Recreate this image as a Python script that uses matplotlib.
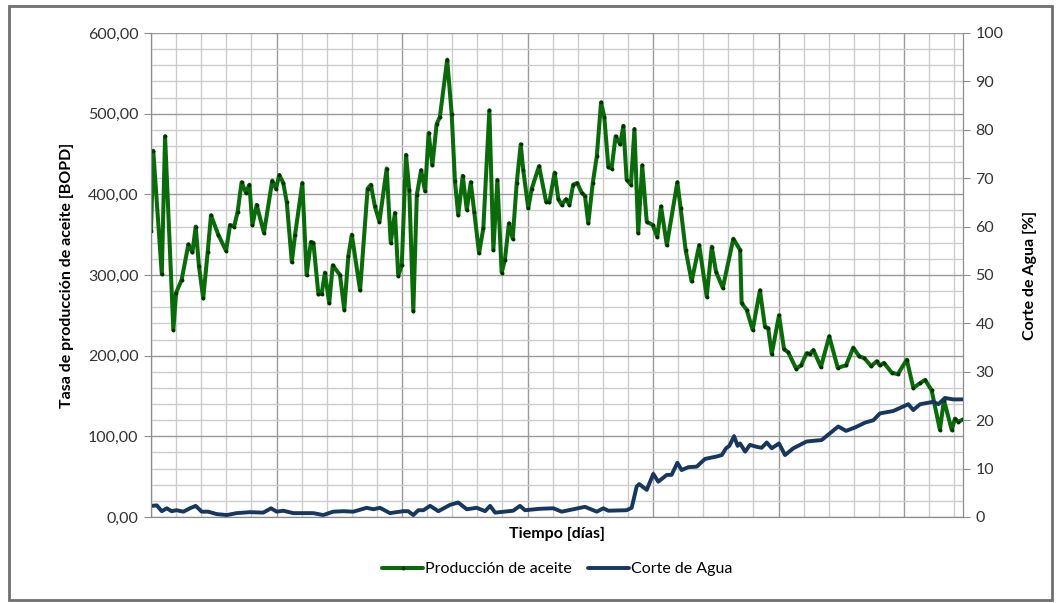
import matplotlib.pyplot as plt
from matplotlib.patches import Rectangle
from matplotlib.ticker import MultipleLocator, FuncFormatter

plt.rcParams['font.family'] = ['Lato', 'DejaVu Sans']

# producción de aceite [BOPD] vs tiempo
dias_aceite = [0, 0.9, 4.3, 5.6, 8.9, 10.0, 12.2, 14.9, 16.5, 17.8, 19.1, 20.8, 22.6, 23.9,
               26.8, 29.9, 31.5, 33.1, 34.5, 36.1, 37.8, 39.2, 40.4, 42.1, 45.0, 48.3, 49.8,
               51.1, 52.7, 54.1, 56.1, 57.4, 60.3, 62.0, 63.7, 64.7, 66.7, 68.0, 69.3, 71.0,
               72.4, 75.3, 77.0, 78.6, 80.0, 83.3, 86.3, 87.6, 89.2, 91.0, 93.9, 95.5, 97.2,
               98.5, 99.9, 101.6, 102.9, 104.5, 105.9, 107.6, 109.2, 110.6, 112.1, 113.8,
               115.1, 118.0, 119.8, 121.1, 122.4, 124.2, 125.8, 127.4, 128.8, 130.7, 132.4,
               134.8, 136.4, 138.0, 139.7, 141.0, 142.6, 144.1, 145.7, 147.3, 148.3, 150.3,
               151.7, 154.6, 157.4, 158.7, 160.8, 162.3, 163.6, 165.3, 166.7, 168.2, 169.8,
               171.6, 172.9, 174.2, 176.0, 177.6, 179.3, 180.6, 182.2, 183.5, 185.1, 186.9,
               188.2, 189.5, 191.2, 192.6, 194.1, 195.7, 197.5, 199.9, 201.7, 203.2, 205.5,
               209.7, 211.0, 213.0, 215.4, 218.4, 221.4, 223.4, 225.1, 227.8, 232.0, 234.7,
               235.3, 237.3, 239.7, 242.6, 244.6, 245.9, 247.3, 250.2, 252.2, 253.9, 257.0,
               259.0, 261.2, 262.5, 263.9, 266.9, 270.2, 273.6, 276.9, 279.8, 282.2, 284.2,
               286.9, 289.1, 290.4, 292.0, 295.1, 297.5, 301.1, 303.7, 306.4, 308.4, 311.0,
               314.3, 315.9, 319.0, 320.3, 321.7, 323.6]
aceite = [355, 454, 301, 472, 232, 278, 294, 338, 328, 360, 311, 271, 329, 374,
          350, 330, 362, 360, 378, 415, 402, 412, 362, 387, 352, 417, 407,
          424, 414, 390, 316, 350, 414, 300, 341, 340, 276, 277, 303, 265,
          312, 300, 257, 323, 350, 281, 407, 412, 385, 366, 432, 340, 377,
          299, 312, 449, 405, 255, 399, 430, 404, 476, 436, 487,
          496, 567, 499, 416, 374, 423, 381, 415, 378, 327, 358,
          504, 331, 418, 303, 319, 364, 345, 414, 462, 430, 383,
          407, 435, 391, 390, 427, 394, 387, 394, 387, 412, 414,
          402, 398, 364, 414, 447, 514, 496, 434, 432, 472, 462,
          485, 418, 412, 481, 352, 436, 366, 362, 347, 385, 337,
          415, 383, 331, 292, 337, 273, 335, 304, 284, 345, 331,
          265, 257, 232, 281, 236, 234, 202, 250, 208, 204, 184,
          188, 203, 202, 207, 186, 224, 185, 188, 210, 199, 197,
          187, 193, 188, 191, 179, 177, 195, 160, 166, 170, 157,
          108, 145, 108, 122, 118, 121]

# corte de agua [%] vs tiempo
dias_agua = [0.3, 2.3, 4.3, 6.3, 8.2, 10.2, 12.9, 15.5, 17.8, 20.2, 22.8, 26.2, 30.2, 34.1,
             39.4, 44.7, 47.8, 50.1, 52.7, 56.7, 64.7, 68.6, 72.6, 76.6, 80.6, 85.9, 88.6,
             91.2, 95.2, 100.5, 102.5, 104.5, 106.5, 108.5, 111.2, 114.5, 119.1, 122.4,
             125.8, 129.8, 133.1, 135.1, 137.1, 144.3, 147.0, 149.0, 155.0, 160.3, 163.6,
             168.2, 172.9, 177.6, 180.2, 182.2, 189.5, 191.5, 193.5, 194.5, 197.5, 200.1,
             202.1, 205.5, 207.4, 209.7, 211.4, 214.1, 217.4, 220.7, 225.4, 227.4, 229.1,
             230.4, 232.3, 233.7, 234.7, 236.7, 238.6, 241.3, 243.3, 245.3, 247.3, 250.2,
             252.6, 255.9, 261.2, 267.2, 270.5, 273.8, 276.9, 280.5, 284.5, 287.8, 290.4,
             295.7, 301.7, 303.7, 306.4, 311.7, 313.7, 316.3, 319.6, 323.6]
agua = [2.3, 2.4, 1.2, 1.8, 1.2, 1.4, 1.1, 1.8, 2.3, 1.1, 1.1, 0.6, 0.4, 0.8,
        1.0, 0.9, 1.8, 1.1, 1.3, 0.8, 0.8, 0.4, 1.1, 1.2, 1.1, 1.9, 1.6,
        1.9, 0.8, 1.2, 1.2, 0.4, 1.4, 1.4, 2.3, 1.2, 2.5, 3.0,
        1.6, 1.9, 1.2, 2.3, 0.9, 1.3, 2.3, 1.4, 1.7, 1.8, 1.1,
        1.6, 2.1, 1.1, 1.8, 1.3, 1.4, 1.9, 6.3, 6.8, 5.6, 8.9,
        7.3, 8.7, 8.7, 11.2, 9.7, 10.3, 10.4, 12.0, 12.5, 12.8, 14.2,
        14.7, 16.7, 14.7, 15.2, 13.5, 14.9, 14.5, 14.3, 15.4, 14.2, 15.2,
        12.8, 14.2, 15.6, 15.9, 17.3, 18.7, 17.8, 18.5, 19.5, 20.0, 21.4,
        21.9, 23.3, 22.1, 23.3, 23.8, 23.3, 24.6, 24.3, 24.3]

verde = '#0b6b0b'
azul = '#17375E'

fig = plt.figure(figsize=(10.63, 6.03), dpi=100)
# marco exterior
fig.patches.append(Rectangle((9 / 1063, 3 / 603), 1043 / 1063, 594 / 603,
                             transform=fig.transFigure, fill=False,
                             edgecolor='#6f6f6f', linewidth=2))

ax = fig.add_axes([151 / 1063, 1 - 517 / 603, 812 / 1063, 484 / 603])
ax2 = ax.twinx()

ax.set_xlim(0, 323.5)
ax.set_ylim(0, 600)
ax2.set_ylim(0, 100)

# rejilla
ax.xaxis.set_major_locator(MultipleLocator(50))
ax.xaxis.set_minor_locator(MultipleLocator(10))
ax.yaxis.set_major_locator(MultipleLocator(100))
ax.yaxis.set_minor_locator(MultipleLocator(20))
ax.grid(which='minor', color='#cccccc', linewidth=1.0)
ax.grid(which='major', color='#999999', linewidth=1.0)
ax.set_axisbelow(True)
ax.tick_params(axis='x', which='both', length=0, labelbottom=False)
ax.tick_params(axis='y', which='minor', length=0)
ax.tick_params(axis='y', which='major', length=5, color='#8c8c8c',
               labelsize=11.5, labelcolor='#333333', pad=4)
ax.yaxis.set_major_formatter(FuncFormatter(lambda v, p: f'{v:.2f}'.replace('.', ',')))

ax2.yaxis.set_major_locator(MultipleLocator(10))
ax2.tick_params(axis='y', length=5, color='#8c8c8c', labelsize=11.5,
                labelcolor='#333333', pad=4)

for a in (ax, ax2):
    for s in a.spines.values():
        s.set_color('#8c8c8c')
    a.spines['top'].set_visible(False)

l1, = ax.plot(dias_aceite, aceite, color=verde, linewidth=2.9, marker='o',
              markersize=1.8, markerfacecolor='#003300', markeredgecolor='#003300',
              solid_joinstyle='round', solid_capstyle='round', label='Producción de aceite')
l2, = ax2.plot(dias_agua, agua, color=azul, linewidth=2.8, solid_joinstyle='round',
               solid_capstyle='round', label='Corte de Agua')

ax.set_ylabel('Tasa de producción de aceite [BOPD]', fontsize=11.5, fontweight='bold',
              labelpad=10)
ax2.set_ylabel('Corte de Agua [%]', fontsize=11.5, fontweight='bold', labelpad=14)
ax.set_xlabel('Tiempo [días]', fontsize=11.5, fontweight='bold', labelpad=7)

fig.legend(handles=[l1, l2], loc='center', bbox_to_anchor=(557 / 1063, 1 - 569 / 603),
           ncol=2, frameon=False, fontsize=11.5, handlelength=2.6, handletextpad=0.1,
           columnspacing=1.0)

fig.savefig('out.png', dpi=100)
